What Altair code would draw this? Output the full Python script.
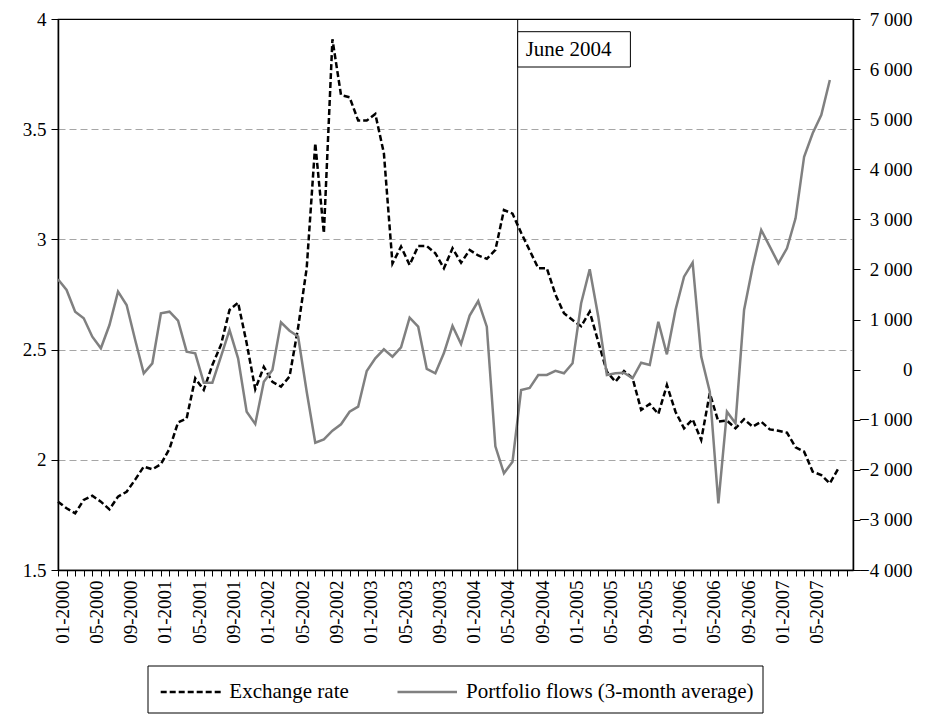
import altair as alt
import pandas as pd

# ---------------- data (monthly, index 0 = 01-2000) ----------------
exchange_rate = [
    1.81, 1.78, 1.757, 1.818, 1.837, 1.81, 1.775, 1.833, 1.855, 1.91,
    1.969, 1.957, 1.98, 2.05, 2.17, 2.188, 2.37, 2.317, 2.43, 2.521,
    2.68, 2.713, 2.529, 2.32, 2.422, 2.354, 2.332, 2.378, 2.6, 2.87,
    3.436, 3.028, 3.908, 3.655, 3.645, 3.539, 3.539, 3.569, 3.391, 2.891,
    2.967, 2.884, 2.97, 2.97, 2.937, 2.869, 2.96, 2.894, 2.952, 2.927,
    2.912, 2.952, 3.133, 3.117, 3.03, 2.95, 2.869, 2.869, 2.75, 2.665,
    2.634, 2.606, 2.672, 2.535, 2.4, 2.354, 2.403, 2.37, 2.226, 2.253,
    2.208, 2.339, 2.218, 2.143, 2.184, 2.09, 2.302, 2.173, 2.178, 2.143,
    2.184, 2.15, 2.173, 2.138, 2.132, 2.123, 2.057, 2.037, 1.946, 1.931,
    1.893, 1.961,
]
portfolio_flows = [
    1803, 1590, 1157, 1024, 657, 426, 891, 1556, 1290, 592,
    -73, 126, 1124, 1157, 977, 358, 326, -261, -261, 258,
    791, 226, -840, -1085, -241, -7, 945, 777, 660, -441,
    -1459, -1392, -1219, -1091, -840, -740, -27, 226, 406, 258,
    446, 1037, 857, 13, -73, 330, 871, 512, 1080, 1370,
    857, -1530, -2070, -1838, -407, -365, -107, -107, -24, -73,
    126, 1324, 2005, 1057, -107, -73, -61, -173, 139, 93,
    957, 306, 1191, 1856, 2135, 259, -440, -2669, -840, -1072,
    1191, 2055, 2788, 2455, 2122, 2422, 3021, 4251, 4718, 5083,
    5782,
]
series_names = ["Exchange rate", "Portfolio flows (3-month average)"]
left_ticks = [1.5, 2, 2.5, 3, 3.5, 4]
right_ticks = [-4000, -3000, -2000, -1000, 0, 1000, 2000, 3000, 4000, 5000, 6000, 7000]
event_label = "June 2004"
event_month = [53.6]

month_er = list(range(len(exchange_rate)))
month_pf = list(range(len(portfolio_flows)))
df_er = pd.DataFrame({"month": month_er, "value": exchange_rate})
df_pf = pd.DataFrame({"month": month_pf, "value": portfolio_flows})
df_event = pd.DataFrame({"month": event_month, "label": [event_label]})
df_one = pd.DataFrame({"k": [0]})

FONT = "Liberation Serif"
W, H = 795, 551
GREY = "#808080"

x_scale = alt.Scale(domain=[0, 92.7], nice=False, zero=False)
month_label = (
    "datum.value % 4 == 0 && datum.value <= 88 ? "
    "((datum.value % 12 < 9 ? '0' : '') + (datum.value % 12 + 1) + '-' + (2000 + floor(datum.value / 12))) : ''"
)
x_axis = alt.Axis(
    values=list(range(93)), labelExpr=month_label, labelAngle=270, labelOverlap=False,
    labelOffset=4, labelPadding=4, tickSize=6, tickColor="black", tickWidth=1,
    domainColor="black", domainWidth=1.5, grid=False, title=None,
    labelFont=FONT, labelFontSize=19, labelColor="black",
)
X = alt.X("month:Q", scale=x_scale, axis=x_axis)

er_line = alt.Chart(df_er).mark_line(
    color="black", strokeWidth=2.5, strokeDash=[6, 3], strokeCap="butt"
).encode(
    x=X,
    y=alt.Y(
        "value:Q",
        scale=alt.Scale(domain=[1.5, 4], nice=False, zero=False),
        axis=alt.Axis(
            values=left_ticks, format=".1~f", orient="left", title=None,
            tickSize=7, tickColor="black", domainColor="black", domainWidth=1.5,
            grid=True, gridColor="#a6a6a6", gridDash=[7, 4], gridWidth=1,
            gridOpacity={"condition": {"test": "datum.value == 1.5 || datum.value == 4", "value": 0}, "value": 1},
            labelFont=FONT, labelFontSize=19, labelColor="black", labelPadding=5,
        ),
    ),
)

pf_line = alt.Chart(df_pf).mark_line(color=GREY, strokeWidth=2.5).encode(
    x=X,
    y=alt.Y(
        "value:Q",
        scale=alt.Scale(domain=[-4000, 7000], nice=False, zero=False),
        axis=alt.Axis(
            values=right_ticks, orient="right", title=None,
            labelExpr="replace(format(datum.value, ','), ',', ' ')",
            labelAlign="right", labelPadding=52,
            tickSize=7, tickColor="black", domainColor="black", domainWidth=1.5,
            grid=False, labelFont=FONT, labelFontSize=19, labelColor="black",
        ),
    ),
)

event_rule = alt.Chart(df_event).mark_rule(color="black", strokeWidth=1).encode(x=X)
event_box = alt.Chart(df_event).mark_rect(fill="white", stroke="black", strokeWidth=1).encode(
    x=X,
    x2=alt.value(572.4),
    y=alt.value(12.7),
    y2=alt.value(48),
)
event_text = alt.Chart(df_event).mark_text(
    align="left", baseline="middle", dx=8, font=FONT, fontSize=21, color="black"
).encode(
    x=X,
    y=alt.value(30.5),
    text="label:N",
)

# legend (drawn as annotation below the plot)
leg_box = alt.Chart(df_one).mark_rect(fill="white", stroke="black", strokeWidth=1).encode(
    x=alt.value(90), x2=alt.value(705), y=alt.value(647), y2=alt.value(694)
)
leg_er = alt.Chart(df_one).mark_rule(color="black", strokeWidth=2.5, strokeDash=[6, 3]).encode(
    x=alt.value(102.7), x2=alt.value(163.4), y=alt.value(673)
)
leg_er_t = alt.Chart(df_one).mark_text(
    align="left", baseline="middle", font=FONT, fontSize=21, color="black", text=series_names[0]
).encode(x=alt.value(171.3), y=alt.value(673))
leg_pf = alt.Chart(df_one).mark_rule(color=GREY, strokeWidth=2.5).encode(
    x=alt.value(339.5), x2=alt.value(399), y=alt.value(673)
)
leg_pf_t = alt.Chart(df_one).mark_text(
    align="left", baseline="middle", font=FONT, fontSize=21, color="black", text=series_names[1]
).encode(x=alt.value(408), y=alt.value(673))

chart = (
    alt.layer(er_line, pf_line, event_rule, event_box, event_text,
              leg_box, leg_er, leg_er_t, leg_pf, leg_pf_t)
    .resolve_scale(y="independent")
    .properties(
        width=W, height=H,
        autosize=alt.AutoSizeParams(type="none"),
        padding={"left": 50, "top": 11, "right": 66, "bottom": 147},
        background="white",
    )
    .configure_view(stroke="black", strokeWidth=1.2)
)

chart.save("out.html", embed_options={"renderer": "svg", "actions": False})
